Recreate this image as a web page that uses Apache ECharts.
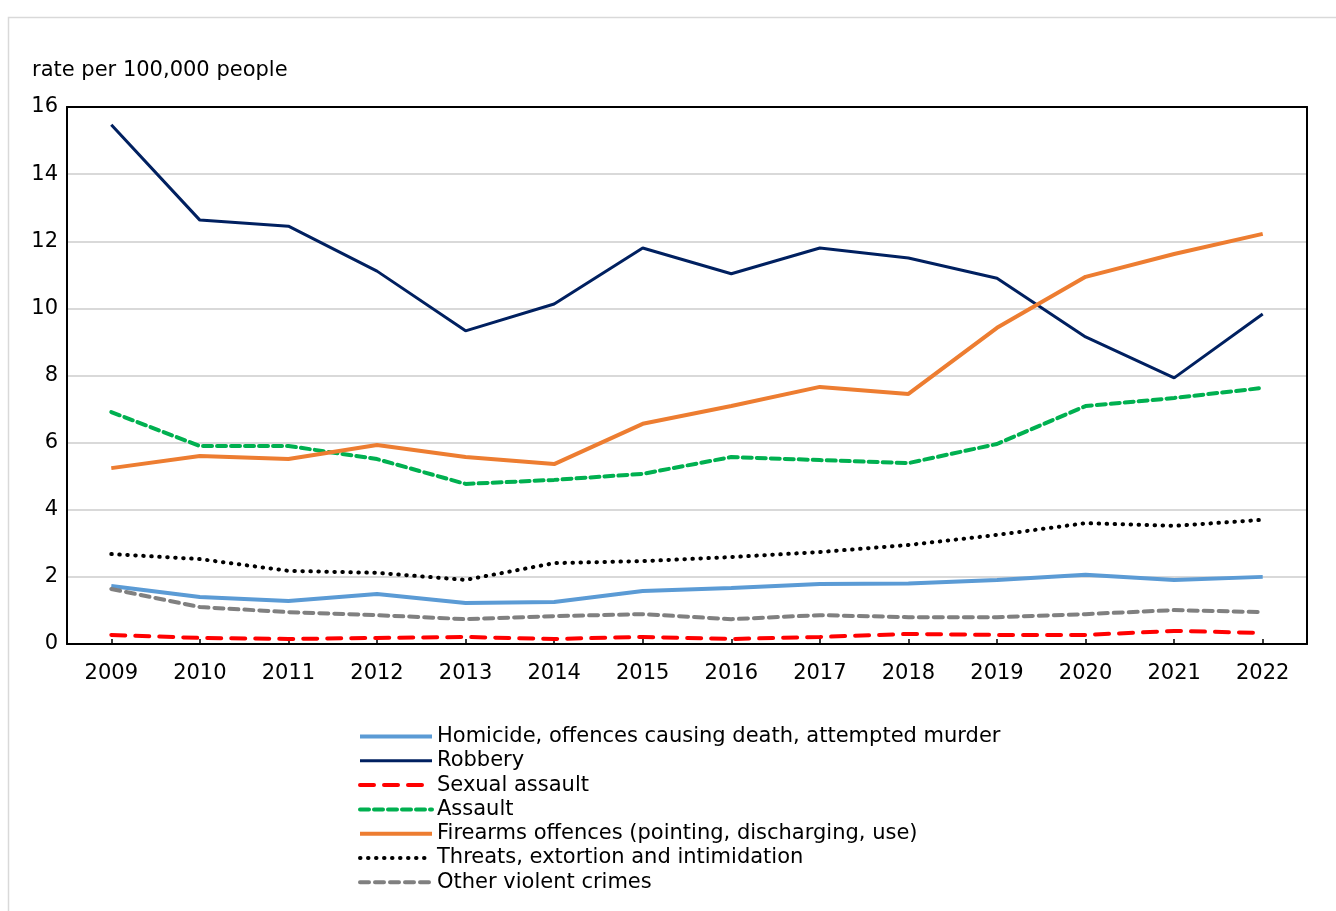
<!DOCTYPE html>
<html>
<head>
<meta charset="utf-8">
<script src="https://cdn.jsdelivr.net/npm/echarts@6/dist/echarts.min.js"></script>
<style>
  html, body { margin: 0; padding: 0; background: #fff; }
  #chart { width: 1336px; height: 911px; }
</style>
</head>
<body>
<div id="chart"></div>
<script>
var years = ['2009','2010','2011','2012','2013','2014','2015','2016','2017','2018','2019','2020','2021','2022'];

var homicide = [1.73, 1.40, 1.28, 1.49, 1.22, 1.25, 1.58, 1.67, 1.79, 1.80, 1.91, 2.06, 1.91, 2.00];
var robbery = [15.47, 12.63, 12.45, 11.11, 9.33, 10.13, 11.80, 11.03, 11.80, 11.50, 10.90, 9.15, 7.93, 9.83];
var sexualAssault = [0.27, 0.18, 0.15, 0.18, 0.21, 0.15, 0.21, 0.15, 0.21, 0.30, 0.27, 0.27, 0.39, 0.33];
var assault = [6.91, 5.90, 5.90, 5.51, 4.77, 4.89, 5.07, 5.57, 5.48, 5.39, 5.96, 7.09, 7.33, 7.63];
var firearms = [5.24, 5.60, 5.51, 5.93, 5.57, 5.36, 6.56, 7.09, 7.66, 7.45, 9.42, 10.94, 11.62, 12.22];
var threats = [2.68, 2.53, 2.18, 2.12, 1.91, 2.41, 2.47, 2.59, 2.74, 2.95, 3.25, 3.60, 3.52, 3.70];
var otherViolent = [1.64, 1.10, 0.95, 0.86, 0.74, 0.83, 0.89, 0.74, 0.86, 0.80, 0.80, 0.89, 1.01, 0.95];

var fontName = 'DejaVu Sans';

// name, data, colour, width, dash, cap
var lines = [
    ['Homicide, offences causing death, attempted murder', homicide, '#5B9BD5', 4, 'solid', 'butt'],
    ['Robbery', robbery, '#002060', 3, 'solid', 'butt'],
    ['Sexual assault', sexualAssault, '#FF0000', 4, [14, 10], 'round'],
    ['Assault', assault, '#00B050', 4, [9, 5], 'round'],
    ['Firearms offences (pointing, discharging, use)', firearms, '#ED7D31', 4, 'solid', 'butt'],
    ['Threats, extortion and intimidation', threats, '#000000', 4, [0.5, 7.5], 'round'],
    ['Other violent crimes', otherViolent, '#808080', 4, [9, 6], 'round']
];

var series = [];
var legendData = [];
for (var i = 0; i < lines.length; i++) {
    var l = lines[i];
    var ls = { color: l[2], width: l[3], type: l[4], cap: l[5] };
    series.push({
        name: l[0],
        type: 'line',
        data: l[1],
        symbol: 'none',
        lineStyle: ls,
        itemStyle: { color: l[2] }
    });
    legendData.push({ name: l[0], lineStyle: ls, itemStyle: { opacity: 0 } });
}

var myChart = echarts.init(document.getElementById('chart'));
var option = {
    animation: false,
    textStyle: { fontFamily: fontName },
    graphic: [
        {
            type: 'rect',
            shape: { x: 8.5, y: 17.5, width: 1400, height: 1000 },
            style: { fill: 'none', stroke: '#d9d9d9', lineWidth: 1.5 },
            z: -1
        },
        {
            type: 'text',
            left: 32,
            top: 60,
            style: { text: 'rate per 100,000 people', font: '21px "DejaVu Sans"', fill: '#000' }
        }
    ],
    grid: {
        left: 67,
        right: 29,
        top: 107,
        bottom: 267
    },
    legend: {
        orient: 'vertical',
        left: 358,
        top: 726,
        padding: 0,
        itemWidth: 72,
        itemHeight: 20,
        itemGap: 3.3,
        itemTextGap: 6,
        itemStyle: { opacity: 0 },
        textStyle: { fontFamily: fontName, fontSize: 21, color: '#000', lineHeight: 20 },
        data: legendData
    },
    xAxis: [{
        type: 'category',
        data: years,
        boundaryGap: true,
        axisLine: { lineStyle: { color: '#000', width: 2 } },
        axisTick: { show: true, inside: true, length: 5, alignWithLabel: true, lineStyle: { color: '#000', width: 1.5 } },
        axisLabel: { color: '#000', fontSize: 21, fontFamily: fontName, margin: 19 }
    }, {
        type: 'category',
        data: years,
        position: 'top',
        axisLine: { show: true, onZero: false, lineStyle: { color: '#000', width: 2 } },
        axisTick: { show: false },
        axisLabel: { show: false },
        splitLine: { show: false }
    }],
    yAxis: [{
        type: 'value',
        min: 0,
        max: 16,
        interval: 2,
        axisLine: { show: true, lineStyle: { color: '#000', width: 2 } },
        axisTick: { show: false },
        splitLine: { showMaxLine: false, showMinLine: false, lineStyle: { color: '#d9d9d9', width: 2 } },
        axisLabel: { color: '#000', fontSize: 21, fontFamily: fontName, margin: 9 }
    }, {
        type: 'value',
        min: 0,
        max: 16,
        interval: 2,
        position: 'right',
        axisLine: { show: true, onZero: false, lineStyle: { color: '#000', width: 2 } },
        axisTick: { show: false },
        axisLabel: { show: false },
        splitLine: { show: false }
    }],
    series: series
};
myChart.setOption(option);
</script>
</body>
</html>
